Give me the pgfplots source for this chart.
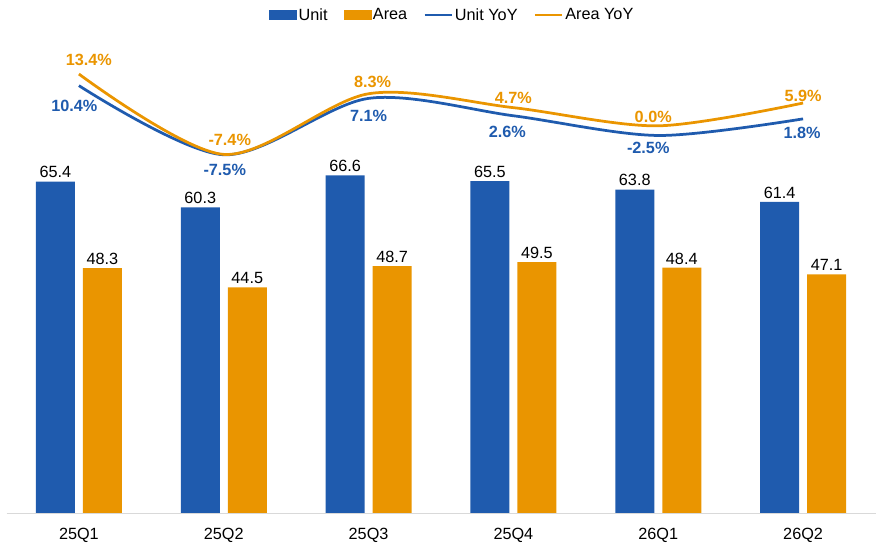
\documentclass[border=0pt]{standalone}
\usepackage{fontspec}
\setmainfont{Liberation Sans}
\usepackage{pgfplots}
\pgfplotsset{compat=1.18}
\usepackage{pgfplotstable}
\definecolor{cblue}{HTML}{1F5BAE}
\definecolor{corange}{HTML}{EA9500}
\definecolor{caxis}{HTML}{D9D9D9}
\newcommand{\fs}{\fontsize{16.3}{19}\selectfont}

\pgfplotstableread{
x unit area
0 65.4 48.3
1 60.3 44.5
2 66.6 48.7
3 65.5 49.5
4 63.8 48.4
5 61.4 47.1
}\bars

\pgfplotstableread{
x y lab dx dy
0 10.4 10.4 -4.5 -20
1 -7.5 -7.5 1 -15
2 7.1 7.1 0 -17.5
3 2.6 2.6 -6 -16
4 -2.5 -2.5 -10 -12
5 1.8 1.8 -1 -14
}\unityoy

\pgfplotstableread{
x y lab dx dy
0 13.4 13.4 10 14
1 -7.4 -7.4 6 14.5
2 8.3 8.3 4 12
3 4.7 4.7 0 10
4 0.0 0.0 -5 9
5 5.9 5.9 0 7
}\areayoy

\begin{document}
\begin{tikzpicture}
\useasboundingbox (0,0) rectangle (880bp,546bp);
\begin{axis}[
  at={(6.5bp,33bp)}, anchor=south west,
  scale only axis, width=869bp, height=483bp,
  xmin=-0.5, xmax=5.5, ymin=0, ymax=95.3,
  axis x line*=bottom, axis y line=none,
  x axis line style={draw=caxis, line width=1bp, -},
  xtick={0,...,5},
  xticklabels={25Q1,25Q2,25Q3,25Q4,26Q1,26Q2},
  major tick length=0pt,
  xticklabel style={font=\fs, text=black, yshift=-12bp},
  ytick=\empty,
  ybar, bar width=39bp,
  nodes near coords,
  every node near coord/.append style={font=\fs, text=black},
  /pgf/number format/.cd, fixed, fixed zerofill, precision=1, assume math mode=true,
]
\addplot[fill=cblue, draw=none, bar shift=-23.5bp] table[x=x,y=unit]{\bars};
\addplot[fill=corange, draw=none, bar shift=23.5bp] table[x=x,y=area]{\bars};
\end{axis}

\begin{axis}[
  at={(6.5bp,33bp)}, anchor=south west,
  scale only axis, width=869bp, height=483bp,
  xmin=-0.5, xmax=5.5, ymin=-100.2, ymax=24.8,
  axis lines=none, clip=false,
  legend columns=4,
  legend style={at={(0.513,1.031)}, anchor=center, draw=none, fill=none,
    font=\fs,
    /tikz/every even column/.append style={column sep=14bp},
    nodes={inner sep=2bp}},
]
\addlegendimage{legend image code/.code={\fill[cblue] (0bp,-4.5bp) rectangle (27bp,4.5bp);}}
\addlegendentry{Unit}
\addlegendimage{legend image code/.code={\fill[corange] (0bp,-4.5bp) rectangle (27bp,4.5bp);}}
\addlegendentry{Area}
\addplot[cblue, line width=2.75bp, smooth, no marks,
  legend image code/.code={\draw[cblue, line width=2.75bp] (0bp,0bp) -- (27bp,0bp);},
  point meta=explicit symbolic,
  nodes near coords={\pgfplotspointmeta\%},
  nodes near coords align=center,
  visualization depends on={\thisrow{dx}\as\dx},
  visualization depends on={\thisrow{dy}\as\dy},
  every node near coord/.append style={anchor=center, xshift=\dx bp, yshift=\dy bp,
    text=cblue, font=\bfseries\fs},
] table[x=x,y=y,meta=lab]{\unityoy};
\addlegendentry{Unit YoY}
\addplot[corange, line width=2.75bp, smooth, no marks,
  legend image code/.code={\draw[corange, line width=2.75bp] (0bp,0bp) -- (27bp,0bp);},
  point meta=explicit symbolic,
  nodes near coords={\pgfplotspointmeta\%},
  nodes near coords align=center,
  visualization depends on={\thisrow{dx}\as\dx},
  visualization depends on={\thisrow{dy}\as\dy},
  every node near coord/.append style={anchor=center, xshift=\dx bp, yshift=\dy bp,
    text=corange, font=\bfseries\fs},
] table[x=x,y=y,meta=lab]{\areayoy};
\addlegendentry{Area YoY}
\end{axis}
\end{tikzpicture}
\end{document}
